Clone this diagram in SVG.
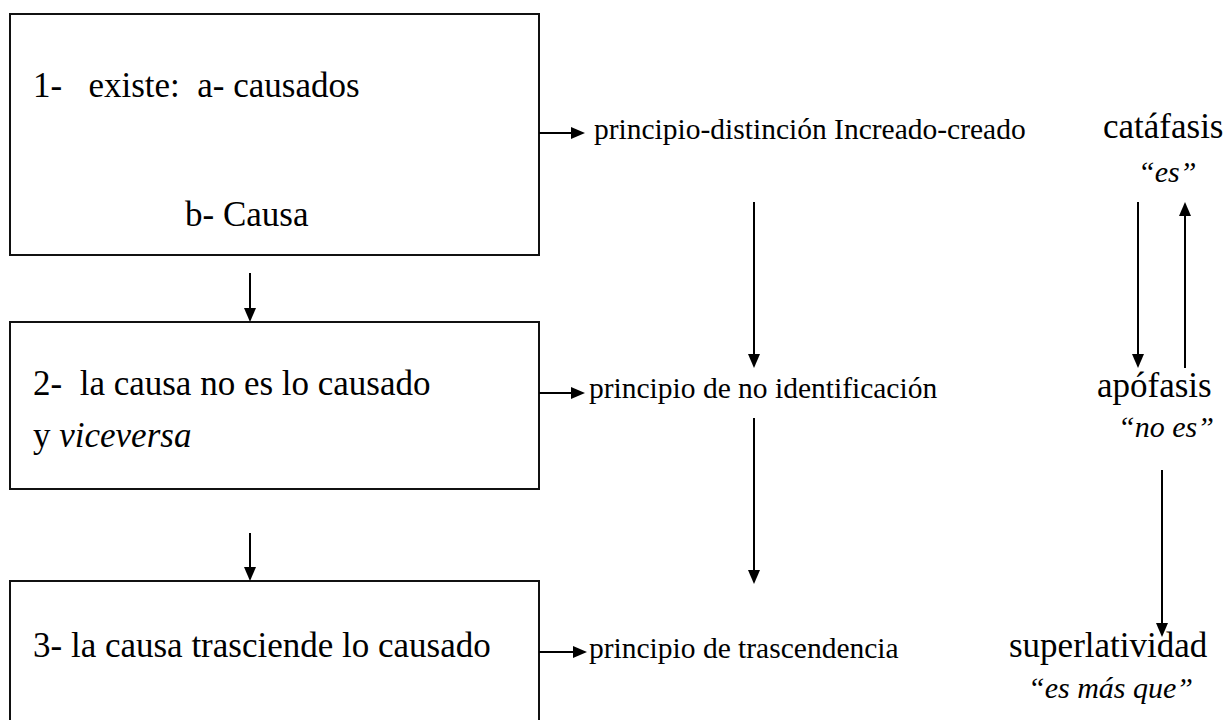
<svg xmlns="http://www.w3.org/2000/svg" width="1226" height="720" viewBox="0 0 1226 720">
  <style>
    .box { fill: #fff; stroke: #111; stroke-width: 2; }
    .t { font-family: "Liberation Serif", "Times New Roman", serif; fill: #000; white-space: pre; }
    .big { font-size: 35px; }
    .small { font-size: 29.5px; }
    .q { font-size: 30px; font-style: italic; }
    .it { font-style: italic; }
    .c { stroke: #000; stroke-width: 2; fill: none; marker-end: url(#ah); }
  </style>
  <defs>
    <marker id="ah" markerUnits="userSpaceOnUse" markerWidth="14" markerHeight="12" refX="10" refY="6" orient="auto">
      <path d="M0,0 L14,6 L0,12 z" fill="#000"/>
    </marker>
  </defs>
  <rect width="1226" height="720" fill="#fff"/>

  <g id="node-1">
    <rect class="box" x="10" y="14" width="529" height="241"/>
    <text class="t big" x="33" y="97" xml:space="preserve">1-   existe:  a- causados</text>
    <text class="t big" x="185" y="226">b- Causa</text>
  </g>
  <g id="node-2">
    <rect class="box" x="10" y="322" width="529" height="167"/>
    <text class="t big" x="33" y="395" xml:space="preserve">2-  la causa no es lo causado</text>
    <text class="t big" x="33" y="447">y <tspan class="it">viceversa</tspan></text>
  </g>
  <g id="node-3">
    <rect class="box" x="10" y="581" width="529" height="170"/>
    <text class="t big" x="33" y="657">3- la causa trasciende lo causado</text>
  </g>

  <g id="label-p1"><text class="t small" x="594" y="139">principio-distinción Increado-creado</text></g>
  <g id="label-p2"><text class="t small" x="589" y="398">principio de no identificación</text></g>
  <g id="label-p3"><text class="t small" x="589" y="658">principio de trascendencia</text></g>

  <g id="node-catafasis">
    <text class="t big" x="1103" y="138">catáfasis</text>
    <text class="t q" x="1138" y="182">“es”</text>
  </g>
  <g id="node-apofasis">
    <text class="t big" x="1097" y="397">apófasis</text>
    <text class="t q" x="1118" y="437">“no es”</text>
  </g>
  <g id="node-superlatividad">
    <text class="t big" x="1009" y="657">superlatividad</text>
    <text class="t q" x="1028" y="698">“es más que”</text>
  </g>

  <g id="connectors">
    <line class="c" x1="250" y1="273" x2="250" y2="318"/>
    <line class="c" x1="250" y1="533" x2="250" y2="577"/>
    <line class="c" x1="539" y1="133" x2="581" y2="133"/>
    <line class="c" x1="539" y1="393" x2="581" y2="393"/>
    <line class="c" x1="539" y1="652" x2="583" y2="652"/>
    <line class="c" x1="754" y1="202" x2="754" y2="364"/>
    <line class="c" x1="754" y1="418" x2="754" y2="580"/>
    <line class="c" x1="1138" y1="202" x2="1138" y2="364"/>
    <line class="c" x1="1185" y1="368" x2="1185" y2="206"/>
    <line class="c" x1="1162" y1="470" x2="1162" y2="633"/>
  </g>
</svg>
